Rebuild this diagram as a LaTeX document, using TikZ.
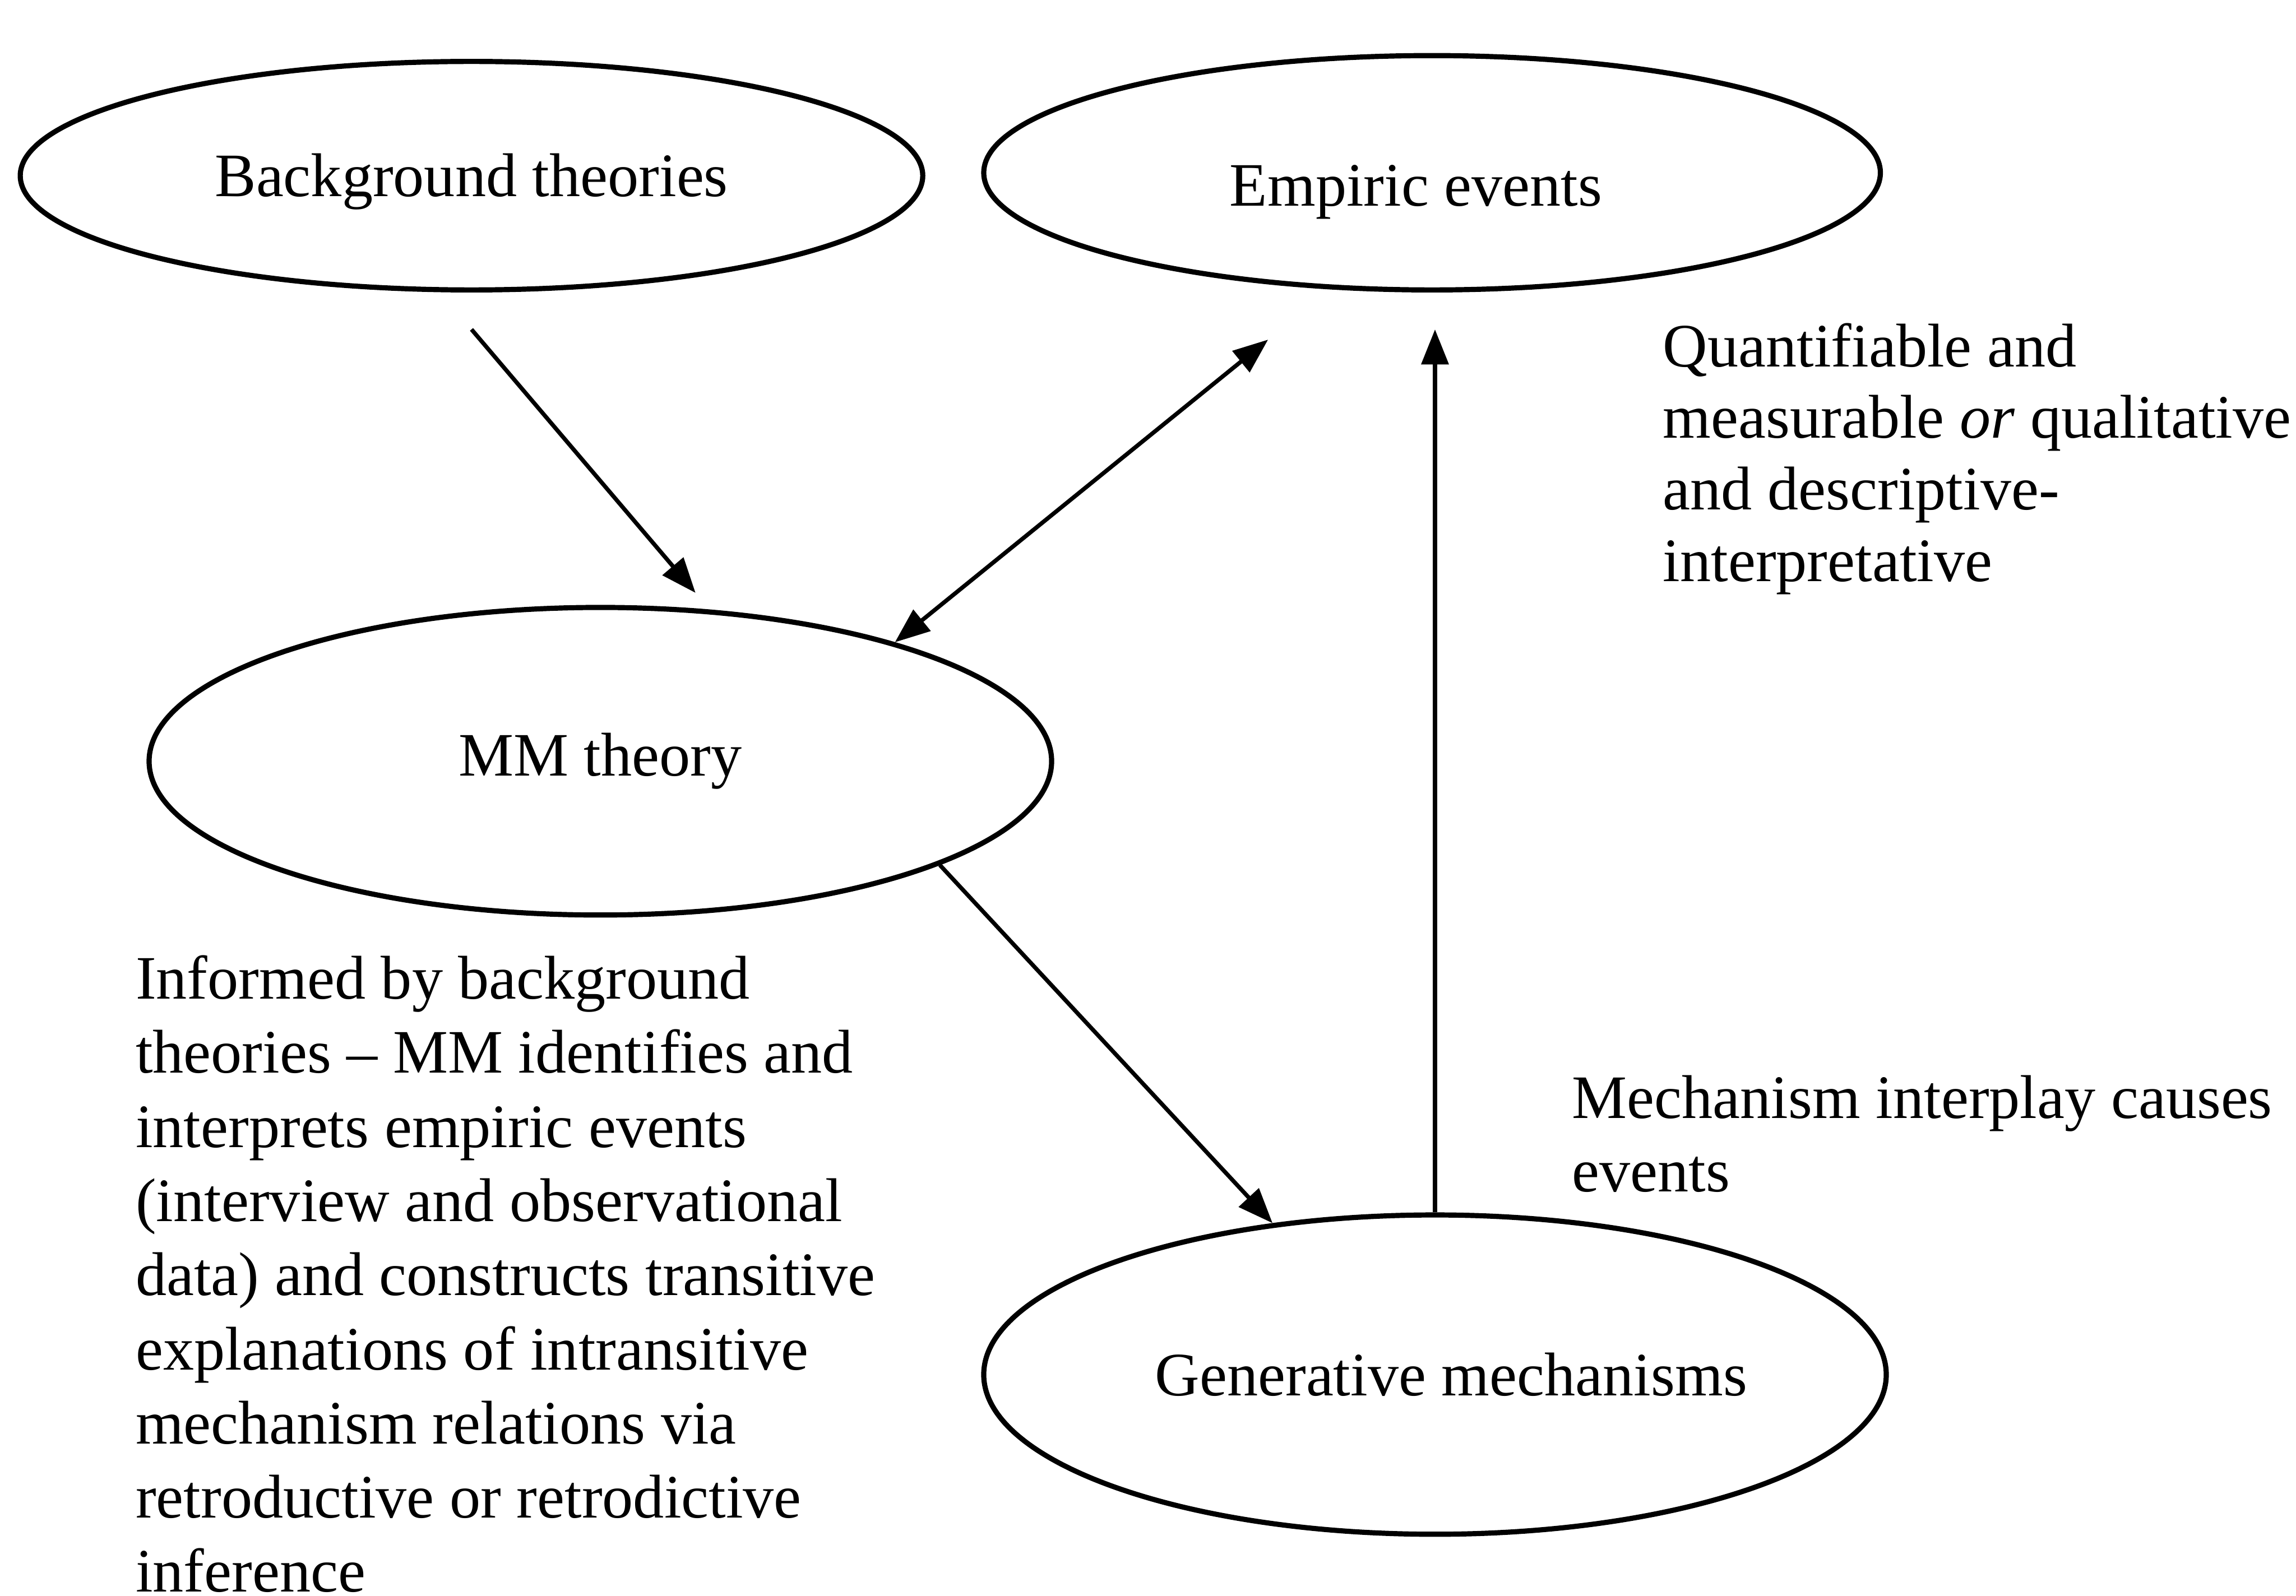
\documentclass[tikz,border=0pt]{standalone}
\usepackage{fontspec}
\setmainfont{Liberation Serif}
\usetikzlibrary{shapes.geometric,arrows.meta}

\tikzset{
  oval/.style={draw, ellipse, line width=1pt, inner sep=0pt, font=\fontsize{12}{14}\selectfont},
  note/.style={anchor=north west, inner sep=0pt, align=left},
  link/.style={line width=0.8pt, -{Triangle[length=6.8pt,width=5.2pt]}},
  twoway/.style={line width=0.8pt, {Triangle[length=6.8pt,width=5.2pt]}-{Triangle[length=6.8pt,width=5.2pt]}}
}
% shift a label inside its oval without changing its size: \nudge{x}{y}{text}
\newcommand{\nudge}[3]{\hspace*{#1}\raisebox{#2}[\height][\depth]{#3}\hspace*{-#1}}

\begin{document}
\begin{tikzpicture}[x=0.01cm, y=-0.01cm]
  \path[use as bounding box] (0,0) rectangle (1568,1090);

  % the four concepts
  \node[oval, minimum width=6.16cm, minimum height=1.56cm] (bg)  at (322,120) {\nudge{0cm}{-0.04cm}{Background theories}};
  \node[oval, minimum width=6.12cm, minimum height=1.60cm] (emp) at (978,118) {\nudge{-0.11cm}{-0.13cm}{Empiric events}};
  \node[oval, minimum width=6.16cm, minimum height=2.10cm] (mm)  at (410,520) {MM theory};
  \node[oval, minimum width=6.16cm, minimum height=2.18cm] (gen) at (980,939) {\nudge{0.11cm}{0cm}{Generative mechanisms}};

  % loose ends of the connectors
  \coordinate (bgout)  at (322,225);
  \coordinate (mmin)   at (475,405);
  \coordinate (empin)  at (866,232);
  \coordinate (empup)  at (980,225);

  % connectors
  \draw[link]   (bgout) -- (mmin);
  \draw[twoway] (mm.22.8) -- (empin);
  \draw[link]   (mm.-17.2) -- (gen.137.1);
  \draw[link]   (gen.north) -- (empup);

  % explanatory notes
  \node[note, font=\fontsize{12}{13.9}\selectfont] (quant) at (1135,220)
    {Quantifiable and\\measurable \textit{or} qualitative\\and descriptive-\\interpretative};
  \node[note, font=\fontsize{12}{14.2}\selectfont] (mech) at (1073,734)
    {Mechanism interplay causes\\events};
  \node[note, font=\fontsize{12}{14.4}\selectfont] (inform) at (92,652)
    {Informed by background\\theories -- MM identifies and\\interprets empiric events\\(interview and observational\\data) and constructs transitive\\explanations of intransitive\\mechanism relations via\\retroductive or retrodictive\\inference};
\end{tikzpicture}
\end{document}
